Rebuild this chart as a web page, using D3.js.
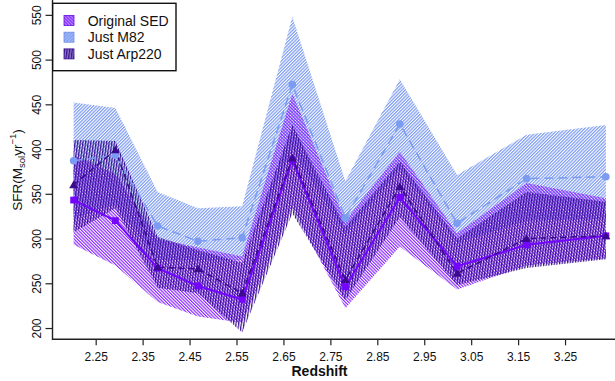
<!DOCTYPE html>
<html>
<head>
<meta charset="utf-8">
<script src="https://cdn.jsdelivr.net/npm/d3@7"></script>
<style>
  html, body { margin: 0; padding: 0; background: #fff; }
  svg { display: block; font-family: "Liberation Sans", Arial, Helvetica, sans-serif; }
</style>
</head>
<body>
<svg id="chart" width="615" height="381"></svg>
<script>
// Redshift bin centres
const redshift = [2.203, 2.292, 2.382, 2.468, 2.562, 2.669, 2.782, 2.898, 3.020, 3.168, 3.337];

// Star-formation rate (Msol/yr) per bin, with lower/upper envelope
const origSFR = [343, 320, 267, 247, 232, 388, 246, 346, 269, 293, 303];
const origLo  = [293, 270, 229, 213, 206, 335, 222, 291, 243, 270, 278];
const origHi  = [393, 372, 300, 290, 280, 462, 320, 397, 306, 362, 345];

const m82SFR  = [387, 393, 314, 297, 301, 472, 323, 428, 317, 367, 369];
const m82Lo   = [322, 338, 276, 276, 276, 400, 305, 378, 295, 320, 322];
const m82Hi   = [452, 446, 352, 334, 336, 548, 364, 478, 371, 416, 427];

const arpSFR  = [360, 399, 268, 266, 239, 390, 254, 358, 261, 300, 303];
const arpLo   = [307, 334, 245, 239, 195, 328, 231, 324, 248, 267, 277];
const arpHi   = [410, 409, 302, 287, 273, 427, 313, 386, 300, 352, 341];

const xTicks = [2.25, 2.35, 2.45, 2.55, 2.65, 2.75, 2.85, 2.95, 3.05, 3.15, 3.25];
const yTicks = [200, 250, 300, 350, 400, 450, 500, 550];
const seriesNames = ["Original SED", "Just M82", "Just Arp220"];

const svg = d3.select("#chart");
const x = d3.scaleLinear().domain([2.158, 3.382]).range([52.5, 627]);
const y = d3.scaleLinear().domain([187.4, 566.6]).range([339.3, 0]);

// Hatch patterns for the envelopes
const defs = svg.append("defs");
function hatch(id, color, angle, spacing, width) {
  const p = defs.append("pattern")
    .attr("id", id)
    .attr("patternUnits", "userSpaceOnUse")
    .attr("width", spacing).attr("height", spacing)
    .attr("patternTransform", `rotate(${angle})`);
  p.append("rect").attr("x", 0).attr("y", 0)
    .attr("width", width).attr("height", spacing)
    .attr("fill", color);
}
hatch("hM82", "#7f9df2", 45, 2.3, 1.25);
hatch("hOrig", "#8a2cff", -45, 2.3, 1.2);
hatch("hArp", "#3a0f92", 8, 2.6, 1.25);

const series = [
  { key: "m82",  mid: m82SFR,  lo: m82Lo,  hi: m82Hi,  fill: "url(#hM82)",  color: "#7b9cf0", dash: "9,5", lw: 1.5 },
  { key: "orig", mid: origSFR, lo: origLo, hi: origHi, fill: "url(#hOrig)", color: "#7406ff", dash: null,  lw: 2 },
  { key: "arp",  mid: arpSFR,  lo: arpLo,  hi: arpHi,  fill: "url(#hArp)",  color: "#3b0a8e", dash: "6,4", lw: 1.5 }
];

// Envelopes
const area = d3.area()
  .x((d, i) => x(redshift[i]))
  .y0(d => y(d[0]))
  .y1(d => y(d[1]));
series.forEach(s => {
  const rows = s.lo.map((v, i) => [v, s.hi[i]]);
  svg.append("path").datum(rows)
    .attr("d", area)
    .attr("fill", s.fill)
    .attr("stroke", "none");
});

// Central lines
const line = d3.line().x((d, i) => x(redshift[i])).y(d => y(d));
series.forEach(s => {
  svg.append("path").datum(s.mid)
    .attr("d", line)
    .attr("fill", "none")
    .attr("stroke", s.color)
    .attr("stroke-width", s.lw)
    .attr("stroke-dasharray", s.dash);
});

// Markers
const m82 = series[0], orig = series[1], arp = series[2];
svg.append("g").selectAll("circle").data(m82.mid).join("circle")
  .attr("cx", (d, i) => x(redshift[i])).attr("cy", d => y(d))
  .attr("r", 3.8).attr("fill", m82.color);
svg.append("g").selectAll("rect").data(orig.mid).join("rect")
  .attr("x", (d, i) => x(redshift[i]) - 3.4).attr("y", d => y(d) - 3.4)
  .attr("width", 6.8).attr("height", 6.8).attr("fill", orig.color);
const tri = d3.symbol().type(d3.symbolTriangle).size(34);
svg.append("g").selectAll("path").data(arp.mid).join("path")
  .attr("transform", (d, i) => `translate(${x(redshift[i])},${y(d) + 0.8})`)
  .attr("d", tri).attr("fill", arp.color);

// Axes
const axisColor = "#222";
const yAxis = svg.append("g")
  .attr("transform", "translate(52.5,0)")
  .call(d3.axisLeft(y).tickValues(yTicks).tickSize(7).tickFormat(d3.format("d")));
yAxis.select(".domain").remove();
yAxis.selectAll("line").attr("stroke", axisColor).attr("stroke-width", 1.2);
yAxis.selectAll("text")
  .attr("x", null).attr("dy", null)
  .attr("transform", "translate(-11.8,0) rotate(-90)")
  .attr("text-anchor", "middle")
  .attr("font-size", 12).attr("fill", "#111")
  .attr("font-family", "Liberation Sans, Arial, sans-serif");

const xAxis = svg.append("g")
  .attr("transform", "translate(0,339.3)")
  .call(d3.axisBottom(x).tickValues(xTicks).tickSize(6).tickFormat(d3.format(".2f")));
xAxis.select(".domain").remove();
xAxis.selectAll("line").attr("stroke", axisColor).attr("stroke-width", 1.2);
xAxis.selectAll("text")
  .attr("y", 22).attr("dy", null)
  .attr("font-size", 12).attr("fill", "#111")
  .attr("font-family", "Liberation Sans, Arial, sans-serif");

// L-shaped frame
svg.append("path")
  .attr("d", "M52.5,0 V339.3 H615")
  .attr("fill", "none").attr("stroke", axisColor).attr("stroke-width", 1.4);

// Axis titles
svg.append("text")
  .attr("x", 319.5).attr("y", 376)
  .attr("text-anchor", "middle")
  .attr("font-size", 14).attr("font-weight", "bold").attr("fill", "#111")
  .text("Redshift");

const yt = svg.append("text")
  .attr("transform", "translate(21.5,170) rotate(-90)")
  .attr("text-anchor", "middle")
  .attr("font-size", 13.5).attr("fill", "#111");
yt.append("tspan").text("SFR(M");
yt.append("tspan").attr("dy", 3.5).attr("font-size", 9.5).text("sol");
yt.append("tspan").attr("dy", -3.5).text("yr");
yt.append("tspan").attr("dy", -5.5).attr("font-size", 9.5).text("\u22121");
yt.append("tspan").attr("dy", 5.5).text(")");

// Legend
const lg = svg.append("g");
lg.append("rect")
  .attr("x", 52.7).attr("y", 3.3).attr("width", 123.3).attr("height", 67.4)
  .attr("fill", "#fff").attr("stroke", "#111").attr("stroke-width", 1.4);
const legendRows = [
  { name: seriesNames[0], fill: "url(#hOrig)", stroke: "#6a10e0", bg: "#b58cff" },
  { name: seriesNames[1], fill: "url(#hM82)", stroke: "#6f8fe8", bg: "#a9bdf6" },
  { name: seriesNames[2], fill: "url(#hArp)", stroke: "#3a1090", bg: "#8a78c0" }
];
legendRows.forEach((r, i) => {
  const cy = 20.5 + i * 16.7;
  lg.append("rect").attr("x", 64).attr("y", cy - 5).attr("width", 10).attr("height", 10)
    .attr("fill", r.bg);
  lg.append("rect").attr("x", 64).attr("y", cy - 5).attr("width", 10).attr("height", 10)
    .attr("fill", r.fill).attr("stroke", r.stroke).attr("stroke-width", 0.8);
  lg.append("text").attr("x", 87.7).attr("y", cy + 5)
    .attr("font-size", 14).attr("fill", "#111").text(r.name);
});
</script>
</body>
</html>
